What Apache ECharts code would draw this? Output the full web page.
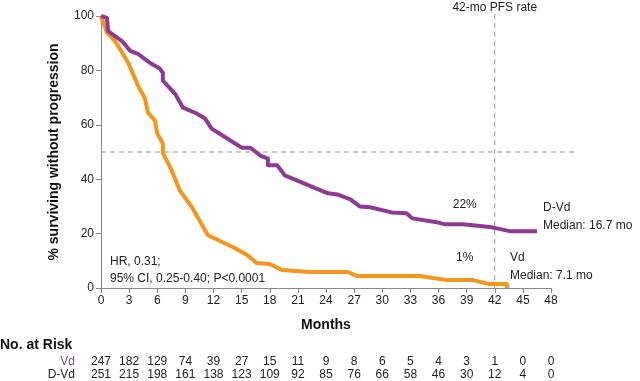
<!DOCTYPE html>
<html><head><meta charset="utf-8">
<script src="https://cdn.jsdelivr.net/npm/echarts@6/dist/echarts.min.js"></script>
<style>html,body{margin:0;padding:0;background:#fff}#c{width:640px;height:381px}</style>
</head><body><div id="c"></div>
<script>
var xTicks = [0,3,6,9,12,15,18,21,24,27,30,33,36,39,42,45,48];
var yTicks = [0,20,40,60,80,100];
var dvdMonths = [0,0.64,0.75,1.17,2.24,3.1,3.95,5.2,6.3,6.6,6.6,7.9,8.75,10.0,11.1,11.8,12.5,15.0,15.9,17.0,17.8,17.8,18.8,19.6,24.2,25.2,26.6,27.6,28.7,31.0,32.6,33.2,35.8,36.7,38.6,41.7,43.6,46.5];
var dvdPct = [100,99.3,94.5,93.4,90.8,87.2,86.1,82.8,80.6,79.1,76.2,71.4,66.3,64.5,62.3,58.6,57.1,51.6,51.6,48.7,47.6,45.1,45.1,41.4,34.8,34.4,32.6,30.0,29.7,27.8,27.5,25.6,24.2,23.4,23.4,22.3,20.9,20.9];
var vdMonths = [0,0.64,1.5,2.9,3.95,4.7,5.0,5.76,6.0,6.6,6.6,7.4,8.4,9.7,11.4,14.1,15.6,16.6,18.0,19.3,22.3,26.3,27.3,34.0,36.9,39.7,41.3,43.3,43.3];
var vdPct = [100,93.8,90.8,82.8,74.4,69.6,64.5,61.5,56.8,53.1,49.5,44.3,35.9,29.7,19.4,15.0,12.1,9.2,8.8,6.6,5.9,5.9,4.4,4.4,2.9,2.9,1.5,1.5,0];
var riskVd = [247,182,129,74,39,27,15,11,9,8,6,5,4,3,1,0,0];
var riskDVd = [251,215,198,161,138,123,109,92,85,76,66,58,46,30,12,4,0];
var landmarkMonth = 42;
var medianLine = 50;

var FONT = '"Liberation Sans", Arial, sans-serif';
var PURPLE = '#8e3a93';
var ORANGE = '#f7941d';
function pairs(xs, ys){ return xs.map(function(x,i){return [x, ys[i]];}); }

var chart = echarts.init(document.getElementById('c'), null, {renderer:'canvas'});
chart.setOption({
  animation:false,
  textStyle:{fontFamily:FONT},
  grid:{left:101,right:89,top:16,bottom:93},
  xAxis:{type:'value',min:0,max:48,interval:3,
    name:'Months',nameLocation:'middle',nameGap:30,
    nameTextStyle:{fontFamily:FONT,fontSize:14,fontWeight:'bold',color:'#111'},
    axisLine:{lineStyle:{color:'#888',width:1}},
    axisTick:{show:true,length:5,lineStyle:{color:'#888'}},
    axisLabel:{fontFamily:FONT,fontSize:12,color:'#222',margin:7},
    splitLine:{show:false}},
  yAxis:{type:'value',min:0,max:100,interval:20,
    name:'% surviving without progression',nameLocation:'middle',nameGap:40,
    nameTextStyle:{fontFamily:FONT,fontSize:14,fontWeight:'bold',color:'#111'},
    axisLine:{show:true,lineStyle:{color:'#888',width:1}},
    axisTick:{show:true,length:5,lineStyle:{color:'#888'}},
    axisLabel:{fontFamily:FONT,fontSize:12,color:'#222',margin:7},
    splitLine:{show:false}},
  series:[
    {name:'Vd',type:'line',data:pairs(vdMonths,vdPct),showSymbol:false,
      lineStyle:{color:ORANGE,width:4,join:'round'},z:3},
    {name:'D-Vd',type:'line',data:pairs(dvdMonths,dvdPct),showSymbol:false,
      lineStyle:{color:PURPLE,width:4,join:'round'},z:4}
  ]
});

var px = function(x){ return chart.convertToPixel({xAxisIndex:0}, x); };
var py = function(y){ return chart.convertToPixel({yAxisIndex:0}, y); };
var g = [];
g.push({type:'line',shape:{x1:px(landmarkMonth),y1:py(100)-2,x2:px(landmarkMonth),y2:py(0)},
  style:{stroke:'#999',lineWidth:1,lineDash:[5,4]},z:1});
g.push({type:'line',shape:{x1:px(0),y1:py(medianLine),x2:px(50.7),y2:py(medianLine)},
  style:{stroke:'#999',lineWidth:1,lineDash:[5,4]},z:1});
function txt(x,y,s,opt){
  opt=opt||{};
  g.push({type:'text',x:x,y:y,style:{text:s,font:(opt.weight||'normal')+' '+(opt.size||12)+'px '+FONT,
    fill:opt.color||'#222',textAlign:opt.align||'left',textVerticalAlign:'middle'},z:10});
}
txt(px(42),8,'42-mo PFS rate',{align:'center'});
txt(px(38.8),205,'22%',{align:'center'});
txt(px(38.8),258,'1%',{align:'center'});
txt(543,208,'D-Vd');
txt(543,226,'Median: 16.7 mo');
txt(510,258,'Vd');
txt(510,276,'Median: 7.1 mo');
txt(110,262,'HR, 0.31;');
txt(110,279,'95% CI, 0.25-0.40; P<0.0001');
txt(0,345,'No. at Risk',{weight:'bold',size:14,color:'#111'});
txt(75,362,'Vd',{align:'right',color:'#6d4c9a'});
txt(75,375,'D-Vd',{align:'right'});
xTicks.forEach(function(t,i){
  txt(px(t),362,String(riskVd[i]),{align:'center'});
  txt(px(t),375,String(riskDVd[i]),{align:'center'});
});
chart.setOption({graphic:g});
</script></body></html>
